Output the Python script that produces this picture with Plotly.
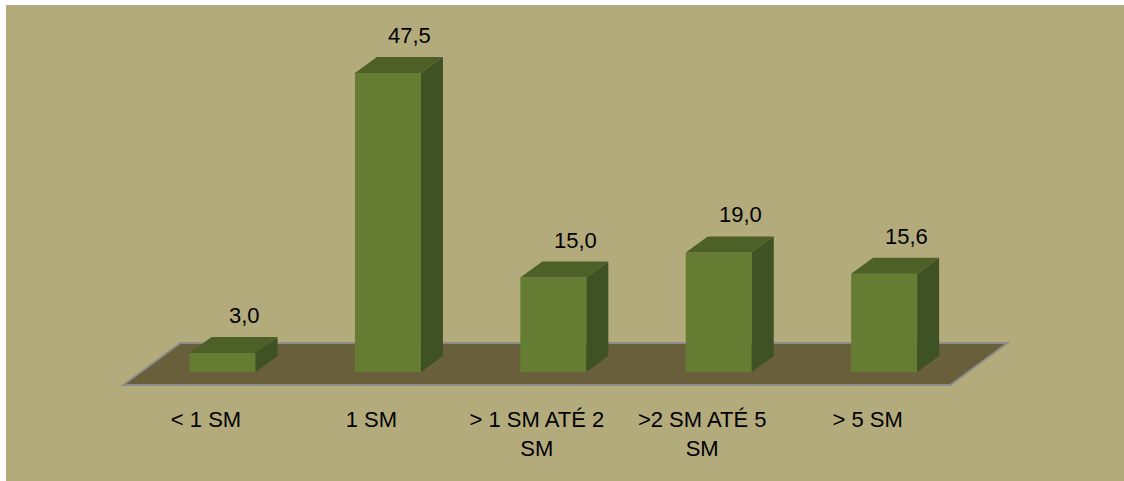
import plotly.graph_objects as go

# Income bands and share of respondents (%)
categories = ["< 1 SM", "1 SM", "> 1 SM ATÉ 2<br>SM", ">2 SM ATÉ 5<br>SM", "> 5 SM"]
values = [3.0, 47.5, 15.0, 19.0, 15.6]

# Colours
BG = "#B4AB7D"
FLOOR = "#6A5F3B"
FLOOR_EDGE = "#8C8C8A"
FRONT = "#657D33"
TOP = "#4C6028"
SIDE = "#3F5223"
FONT = "Liberation Sans, Arial, sans-serif"

# Oblique projection (data units: x = category slot, y = value)
BAR_W = 0.399      # front face width
BAR_SHIFT = 0.10   # front face centre offset from category centre
BAR_DX = 0.133     # bar depth, horizontal part
BAR_DY = 2.54      # bar depth, vertical part
FLOOR_Y0, FLOOR_Y1 = -2.07, 4.60
FLOOR_X0, FLOOR_X1 = -0.5, 4.5
FLOOR_DX = 0.345

positions = list(range(len(categories)))
fig = go.Figure()

# front faces
fig.add_trace(go.Bar(
    x=[p + BAR_SHIFT for p in positions], y=values, width=BAR_W,
    marker=dict(color=FRONT, line=dict(width=0)),
    hoverinfo="skip", showlegend=False,
))

# top and side faces
for p, v in zip(positions, values):
    xl = p + BAR_SHIFT - BAR_W / 2
    xr = p + BAR_SHIFT + BAR_W / 2
    fig.add_trace(go.Scatter(
        x=[xl, xl + BAR_DX, xr + BAR_DX, xr, xl],
        y=[v, v + BAR_DY, v + BAR_DY, v, v],
        fill="toself", fillcolor=TOP, mode="lines", line=dict(width=0),
        hoverinfo="skip", showlegend=False,
    ))
    fig.add_trace(go.Scatter(
        x=[xr, xr + BAR_DX, xr + BAR_DX, xr, xr],
        y=[0, BAR_DY, v + BAR_DY, v, 0],
        fill="toself", fillcolor=SIDE, mode="lines", line=dict(width=0),
        hoverinfo="skip", showlegend=False,
    ))
    fig.add_annotation(
        x=p + BAR_SHIFT + BAR_DX, y=v + BAR_DY,
        text=f"{v:.1f}".replace(".", ","), showarrow=False,
        yanchor="bottom", yshift=7,
        font=dict(family=FONT, size=22, color="#000000"),
    )

# floor
floor_path = (
    f"M {FLOOR_X0},{FLOOR_Y0} L {FLOOR_X1},{FLOOR_Y0} "
    f"L {FLOOR_X1 + FLOOR_DX},{FLOOR_Y1} L {FLOOR_X0 + FLOOR_DX},{FLOOR_Y1} Z"
)
fig.add_shape(type="path", path=floor_path, xref="x", yref="y",
              fillcolor=FLOOR, line=dict(color=FLOOR_EDGE, width=2),
              layer="below")

fig.update_layout(
    width=1124, height=481,
    margin=dict(l=6, r=0, t=5, b=0),
    paper_bgcolor="#FFFFFF", plot_bgcolor=BG,
    showlegend=False,
    xaxis=dict(
        range=[-1.2092, 5.5502], tickvals=positions, ticktext=categories,
        showgrid=False, zeroline=False, showline=False, ticks="",
        anchor="free", position=0.161,
        tickfont=dict(family=FONT, size=22, color="#000000"),
        fixedrange=True,
    ),
    yaxis=dict(
        range=[-17.32, 58.30], showgrid=False, zeroline=False,
        showticklabels=False, showline=False, ticks="", fixedrange=True,
    ),
)

fig.write_html("out.html")
